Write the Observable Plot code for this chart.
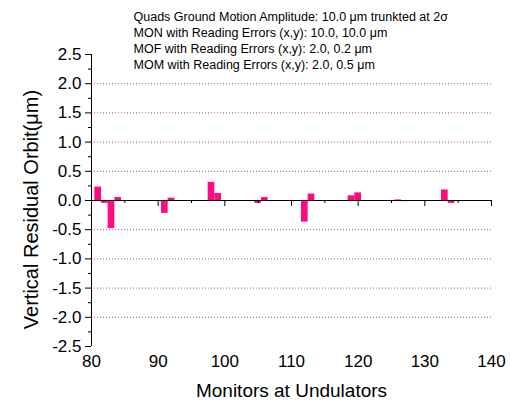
<!DOCTYPE html>
<html>
<head>
<meta charset="utf-8">
<script src="https://cdn.jsdelivr.net/npm/d3@7"></script>
<script src="https://cdn.jsdelivr.net/npm/@observablehq/plot@0.6"></script>
<style>
  body { margin: 0; background: #fff; }
  svg { font-family: "Liberation Sans", Arial, sans-serif; }
</style>
</head>
<body>
<div id="chart"></div>
<script>
const monitors = [81, 82, 83, 84, 91, 92, 98, 99, 105, 106, 112, 113, 119, 120, 126, 127, 133, 134];
const residual = [0.23, -0.05, -0.48, 0.05, -0.22, 0.04, 0.31, 0.12, -0.05, 0.05, -0.37, 0.11, 0.08, 0.13, 0.01, -0.02, 0.18, -0.05];
const xTicks = [80, 90, 100, 110, 120, 130, 140];
const xMinorTicks = [85, 95, 105, 115, 125, 135];
const yTicks = [-2.5, -2.0, -1.5, -1.0, -0.5, 0.0, 0.5, 1.0, 1.5, 2.0, 2.5];
const yMinorTicks = [-2.25, -1.75, -1.25, -0.75, -0.25, 0.25, 0.75, 1.25, 1.75, 2.25];
const gridValues = [-2.0, -1.5, -1.0, -0.5, 0.5, 1.0, 1.5, 2.0];
const legendLines = [
  "Quads Ground Motion Amplitude: 10.0 \u03bcm trunkted at 2\u03c3",
  "MON with Reading Errors (x,y): 10.0, 10.0 \u03bcm",
  "MOF with Reading Errors (x,y): 2.0, 0.2 \u03bcm",
  "MOM with Reading Errors (x,y): 2.0, 0.5 \u03bcm"
];
const xTitle = "Monitors at Undulators";
const yTitle = "Vertical Residual Orbit(\u03bcm)";

const data = monitors.map((m, i) => ({m, v: residual[i]}));

const chart = Plot.plot({
  width: 510,
  height: 406,
  marginLeft: 91,
  marginRight: 19,
  marginTop: 54,
  marginBottom: 60,
  style: {fontFamily: "'Liberation Sans', Arial, sans-serif", background: "#fff"},
  x: {domain: [80, 140]},
  y: {domain: [-2.5, 2.5]},
  marks: [
    Plot.ruleY(gridValues, {stroke: "#b040b0", strokeDasharray: "1,2", strokeWidth: 1}),
    Plot.rectY(data, {x1: d => d.m - 0.5, x2: d => d.m + 0.5, y: "v", fill: "#ff0a80"}),
    Plot.ruleY([0], {stroke: "#000", strokeWidth: 1}),
    Plot.ruleX(xTicks.slice(1), {y1: 0, y2: 0, insetBottom: -6, stroke: "#000"}),
    Plot.ruleX(xMinorTicks, {y1: 0, y2: 0, insetBottom: -3, stroke: "#000"}),
    Plot.ruleX([80], {stroke: "#000"}),
    Plot.axisY({ticks: yTicks, tickSize: 6, tickPadding: 4, fontSize: 17, label: null,
      tickFormat: d => d.toFixed(1)}),
    Plot.axisY({ticks: yMinorTicks, tickSize: 3, tickFormat: () => "", label: null}),
    Plot.axisX({ticks: xTicks, tickSize: 0, tickPadding: 8, fontSize: 17, label: null}),
    Plot.text([xTitle], {frameAnchor: "bottom", textAnchor: "middle", lineAnchor: "middle", dy: 44, fontSize: 19, fill: "#000"}),
    Plot.text([yTitle], {frameAnchor: "left", textAnchor: "middle", lineAnchor: "middle", dx: -60, dy: 9, rotate: -90, fontSize: 20, fill: "#000"}),
    Plot.text([legendLines.join("\n")], {frameAnchor: "top-left", textAnchor: "start", lineAnchor: "top",
      dx: 42, dy: -45, fontSize: 12.5, lineHeight: 1.28, fill: "#000"})
  ]
});
document.getElementById("chart").appendChild(chart);
</script>
</body>
</html>
